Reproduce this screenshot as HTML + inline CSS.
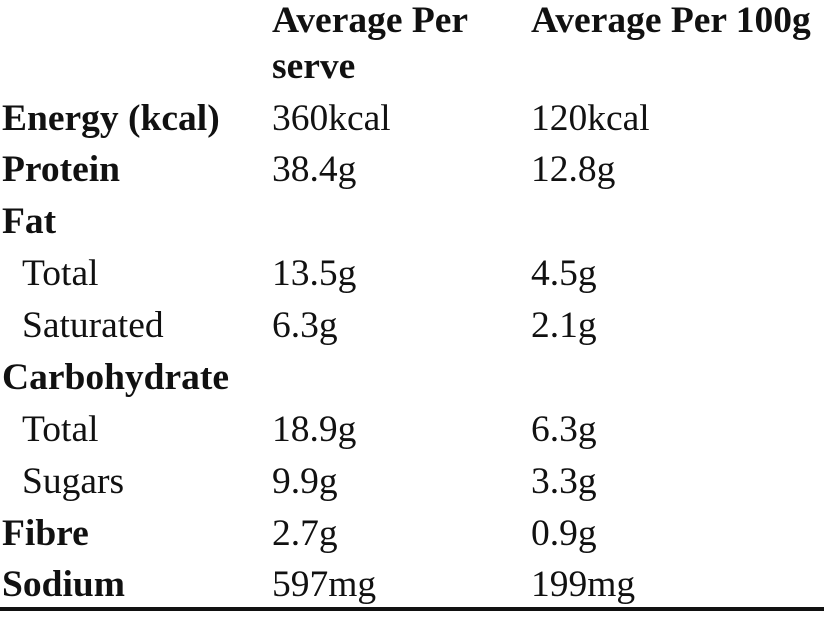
<!DOCTYPE html>
<html><head><meta charset="utf-8"><style>
html,body{margin:0;padding:0;background:#fff;width:824px;height:618px;overflow:hidden}
svg text{font-family:"Liberation Serif",serif;font-size:37.5px;fill:#111}
.b{font-weight:bold}
</style></head><body>
<svg width="824" height="618" xmlns="http://www.w3.org/2000/svg">
<text class="b" x="272" y="32">Average Per</text>
<text class="b" x="531" y="32">Average Per 100g</text>
<text class="b" x="272" y="78">serve</text>
<text class="b" x="2" y="130">Energy (kcal)</text><text x="272" y="130">360kcal</text><text x="531" y="130">120kcal</text>
<text class="b" x="2" y="181">Protein</text><text x="272" y="181">38.4g</text><text x="531" y="181">12.8g</text>
<text class="b" x="2" y="233">Fat</text>
<text x="22" y="285">Total</text><text x="272" y="285">13.5g</text><text x="531" y="285">4.5g</text>
<text x="22" y="337">Saturated</text><text x="272" y="337">6.3g</text><text x="531" y="337">2.1g</text>
<text class="b" x="2" y="389">Carbohydrate</text>
<text x="22" y="441">Total</text><text x="272" y="441">18.9g</text><text x="531" y="441">6.3g</text>
<text x="22" y="493">Sugars</text><text x="272" y="493">9.9g</text><text x="531" y="493">3.3g</text>
<text class="b" x="2" y="545">Fibre</text><text x="272" y="545">2.7g</text><text x="531" y="545">0.9g</text>
<text class="b" x="2" y="596">Sodium</text><text x="272" y="596">597mg</text><text x="531" y="596">199mg</text>
<rect x="0" y="607" width="824" height="4" fill="#111"/>
</svg>
</body></html>
